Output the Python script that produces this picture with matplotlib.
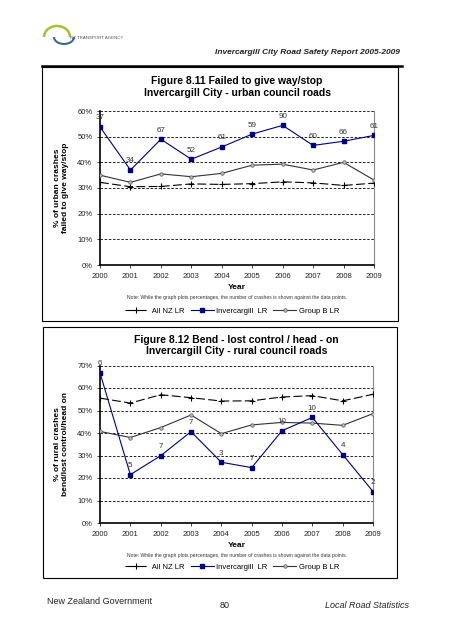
import matplotlib.pyplot as plt
from matplotlib.patches import Rectangle, Arc
from matplotlib.lines import Line2D

plt.rcParams['font.family'] = ['Liberation Sans', 'DejaVu Sans']

years = [2000, 2001, 2002, 2003, 2004, 2005, 2006, 2007, 2008, 2009]

# Figure 8.11 - urban, failed to give way/stop (%)
urban_nz = [32.2, 30.5, 30.6, 31.6, 31.4, 31.7, 32.4, 32.0, 31.0, 31.9]
urban_inv = [53.8, 37.0, 49.0, 41.2, 46.0, 51.0, 54.4, 46.6, 48.2, 50.5]
urban_grpb = [35.0, 32.2, 35.5, 34.4, 35.7, 38.9, 39.3, 37.0, 40.0, 33.1]
urban_counts = [37, 34, 67, 52, 61, 59, 90, 60, 66, 61]

# Figure 8.12 - rural, bend/lost control/head on (%)
rural_nz = [55.5, 53.3, 57.0, 55.7, 54.2, 54.3, 56.0, 56.6, 54.3, 57.2]
rural_inv = [66.7, 21.5, 29.9, 40.6, 27.0, 24.6, 41.0, 46.9, 30.4, 14.0]
rural_grpb = [40.7, 38.0, 42.4, 48.0, 39.7, 43.6, 44.7, 44.4, 43.4, 48.6]
rural_counts = [6, 5, 7, 7, 3, 7, 10, 10, 4, 2]

W, H = 452, 640
fig = plt.figure(figsize=(W / 100, H / 100), dpi=100)


def fx(px):
    return px / W


def fy(py):
    return 1 - py / H


def chart(rect, nz, inv, grpb, counts, ymax, title, ylabel, tpad):
    ax = fig.add_axes(rect)
    ax.plot(years, nz, color='black', lw=0.8, dashes=(8, 3), marker='+', ms=4,
            mew=0.8, label=' All NZ LR', zorder=3)
    ax.plot(years, inv, color='#000080', lw=0.8, marker='s', ms=3,
            label='Invercargill  LR', zorder=4)
    ax.plot(years, grpb, color='#333333', lw=0.8, marker='o', ms=2.5,
            mfc='#bbbbbb', mec='#555555', mew=0.5, label='Group B LR', zorder=3)
    for x, y, c in zip(years, inv, counts):
        ax.annotate(str(c), (x, y), xytext=(0, 4), textcoords='offset points',
                    ha='center', va='bottom', fontsize=5.8, color='#333333')
    ax.set_xlim(years[0], years[-1])
    ax.set_ylim(0, ymax)
    ax.set_xticks(years)
    ax.set_xticklabels([str(y) for y in years])
    ticks = list(range(0, ymax + 1, 10))
    ax.set_yticks(ticks)
    ax.set_yticklabels(['%d%%' % t for t in ticks])
    for t in ticks[1:]:
        ax.axhline(t, color='black', lw=0.6, ls=(0, (3, 2)), zorder=1)
    ax.tick_params(labelsize=5.5, length=2, width=0.6, colors='#222222')
    ax.spines['left'].set_linewidth(1.2)
    ax.spines['bottom'].set_linewidth(1.2)
    ax.spines['right'].set_color('#888888')
    ax.spines['right'].set_linewidth(0.8)
    ax.spines['top'].set_visible(False)
    ax.set_xlabel('Year', fontsize=6, fontweight='bold', labelpad=3)
    ax.set_ylabel(ylabel, fontsize=6, fontweight='bold', labelpad=6)
    ax.set_title(title, fontsize=7.5, fontweight='bold', pad=tpad)
    return ax


box_kw = dict(transform=fig.transFigure, fill=False, ec='black', lw=0.8)
fig.patches.append(Rectangle((fx(42), fy(321)), fx(356), 254 / H, **box_kw))
fig.patches.append(Rectangle((fx(43), fy(578)), fx(354), 251 / H, **box_kw))

ax1 = chart([fx(100), fy(265), fx(274), 154 / H], urban_nz, urban_inv, urban_grpb,
            urban_counts, 60,
            'Figure 8.11 Failed to give way/stop\nInvercargill City - urban council roads',
            '% of urban crashes\nfailed to give way/stop', 11)
ax2 = chart([fx(100), fy(523), fx(273), 157.5 / H], rural_nz, rural_inv, rural_grpb,
            rural_counts, 70,
            'Figure 8.12 Bend - lost control / head - on\nInvercargill City - rural council roads',
            '% of rural crashes\nbend/lost control/head on', 8)

note = 'Note: While the graph plots percentages, the number of crashes is shown against the data points.'
for ax, ny, ly in [(ax1, 298, 311), (ax2, 555, 567)]:
    fig.text(fx(237), fy(ny), note, fontsize=3.6, ha='center', va='center', color='#333333')
    h, l = ax.get_legend_handles_labels()
    fig.legend(h, l, loc='center', bbox_to_anchor=(fx(232), fy(ly)), ncol=3,
               frameon=False, fontsize=5.5, handlelength=3, columnspacing=0.8,
               handletextpad=0.3)

# header
fig.add_artist(Line2D([fx(42), fx(402)], [fy(66), fy(66)], color='black', lw=1.8))
fig.text(fx(400), fy(53), 'Invercargill City Road Safety Report 2005-2009', fontsize=6,
         style='italic', fontweight='bold', ha='right', va='center', color='#222222')
fig.patches.append(Arc((fx(57), fy(37)), fx(26), 22 / H, theta1=0, theta2=180,
                       transform=fig.transFigure, color='#a8c030', lw=1.8))
fig.patches.append(Arc((fx(64), fy(37)), fx(20), 14 / H, theta1=180, theta2=360,
                       transform=fig.transFigure, color='#3a6a9a', lw=1.5))
fig.text(fx(70), fy(38), 'NZ TRANSPORT AGENCY', fontsize=3.2, color='#555555', va='center')

# footer
fig.text(fx(47), fy(601), 'New Zealand Government', fontsize=6.5, color='#222222', va='center')
fig.text(fx(225), fy(606), '80', fontsize=6.5, ha='center', va='center', color='#222222')
fig.text(fx(409), fy(606), 'Local Road Statistics', fontsize=6.5, style='italic',
         ha='right', va='center', color='#222222')

fig.savefig('out.png', dpi=100)
